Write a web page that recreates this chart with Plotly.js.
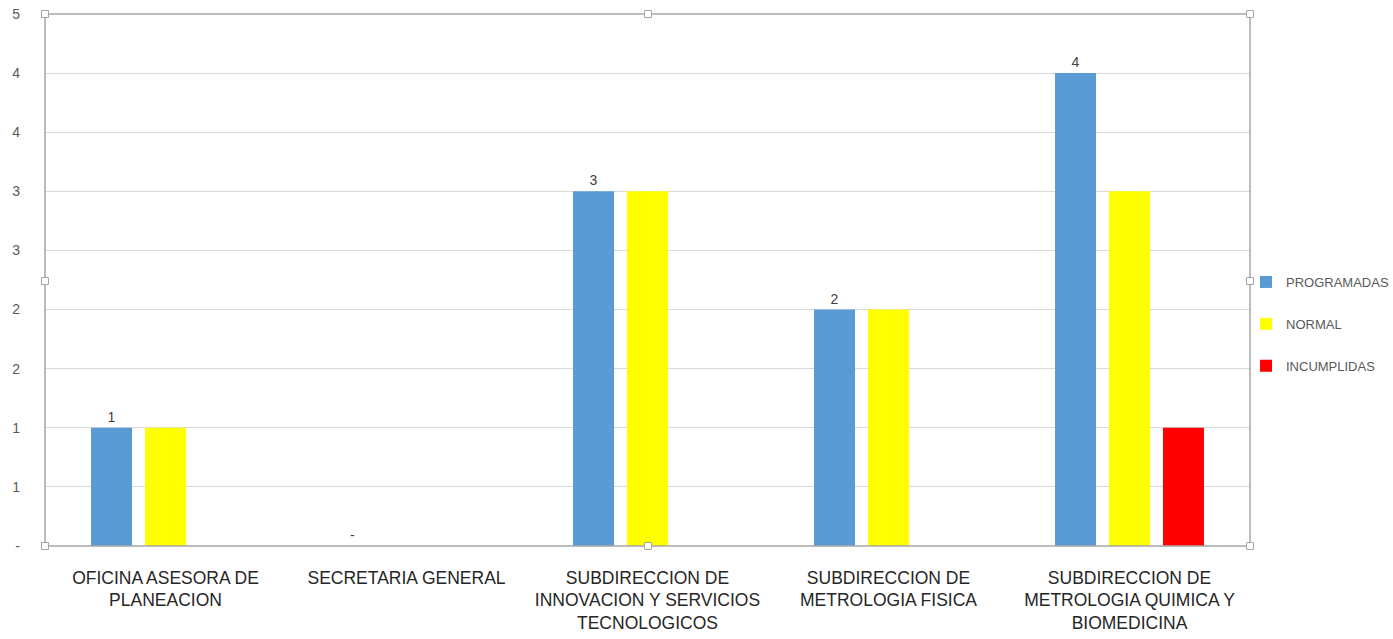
<!DOCTYPE html>
<html>
<head>
<meta charset="utf-8">
<script src="https://cdn.plot.ly/plotly-3.0.1.min.js"></script>
<style>html,body{margin:0;padding:0;background:#fff;}#chart{width:1393px;height:639px;}</style>
</head>
<body>
<div id="chart"></div>
<script>
const categories = [
  "OFICINA ASESORA DE<br>PLANEACION",
  "SECRETARIA GENERAL",
  "SUBDIRECCION DE<br>INNOVACION Y SERVICIOS<br>TECNOLOGICOS",
  "SUBDIRECCION DE<br>METROLOGIA FISICA",
  "SUBDIRECCION DE<br>METROLOGIA QUIMICA Y<br>BIOMEDICINA"
];
const programadas = [1, 0, 3, 2, 4];
const normal = [1, 0, 3, 2, 3];
const incumplidas = [0, 0, 0, 0, 1];
const yTickVals = [0, 0.5, 1, 1.5, 2, 2.5, 3, 3.5, 4, 4.5];
const yTickText = ["-", "1", "1", "2", "2", "3", "3", "4", "4", "5"];

const font = "'Liberation Sans', Arial, sans-serif";

const traces = [
  {type:'bar', name:'PROGRAMADAS', x:categories, y:programadas, marker:{color:'#5b9bd5'},
   text: programadas.map(v => v === 0 ? '-' : String(v)), textposition:'outside', cliponaxis:false,
   textfont:{family:font, size:14, color:'#404040'}, legendgroup:'a', hoverinfo:'x+y'},
  {type:'bar', name:'NORMAL', x:categories, y:normal, marker:{color:'#ffff00'}, legendgroup:'b', hoverinfo:'x+y'},
  {type:'bar', name:'INCUMPLIDAS', x:categories, y:incumplidas, marker:{color:'#ff0000'}, legendgroup:'c', hoverinfo:'x+y'}
];

const L = 45, R = 1250, T = 14, B = 546, W = 1393, H = 639;
const px = x => (x - L) / (R - L);
const py = y => (B - y) / (B - T);
const handles = [[45,14],[648,14],[1250,14],[45,281],[1250,281],[45,546],[648,546],[1250,546]];
const shapes = [
  {type:'rect', xref:'paper', yref:'paper', x0:0, x1:1, y0:0, y1:1, line:{color:'#a6a6a6', width:1.5}, layer:'above'}
];
handles.forEach(([hx, hy]) => {
  shapes.push({type:'rect', xref:'paper', yref:'paper',
    x0:px(hx-3.5), x1:px(hx+3.5), y0:py(hy+3.5), y1:py(hy-3.5),
    line:{color:'#a6a6a6', width:1}, fillcolor:'#ffffff', layer:'above'});
});

const layout = {
  width:W, height:H,
  margin:{l:L, r:W-R, t:T, b:H-B, pad:0, autoexpand:false},
  paper_bgcolor:'#ffffff', plot_bgcolor:'#ffffff',
  font:{family:font, color:'#404040', size:16},
  barmode:'group', bargap:0.328, bargroupgap:0.24,
  showlegend:true,
  legend:{x:px(1246), xanchor:'left', y:py(324), yanchor:'middle',
    font:{family:font, size:13, color:'#595959'}, tracegroupgap:22,
    itemwidth:30, bgcolor:'rgba(0,0,0,0)'},
  xaxis:{type:'category', showgrid:false, zeroline:false, showline:false, ticks:'',
    ticklabelstandoff:19,
    tickfont:{family:font, size:17.5, color:'#262626'}, automargin:false, fixedrange:true},
  yaxis:{range:[0,4.5], tickmode:'array', tickvals:yTickVals, ticktext:yTickText,
    showgrid:true, gridcolor:'#d9d9d9', gridwidth:1, zeroline:false, showline:false,
    ticks:'', ticklabelstandoff:24, tickfont:{family:font, size:14, color:'#595959'},
    automargin:false, fixedrange:true},
  shapes:shapes
};

Plotly.newPlot('chart', traces, layout, {displayModeBar:false, staticPlot:true});
</script>
</body>
</html>
